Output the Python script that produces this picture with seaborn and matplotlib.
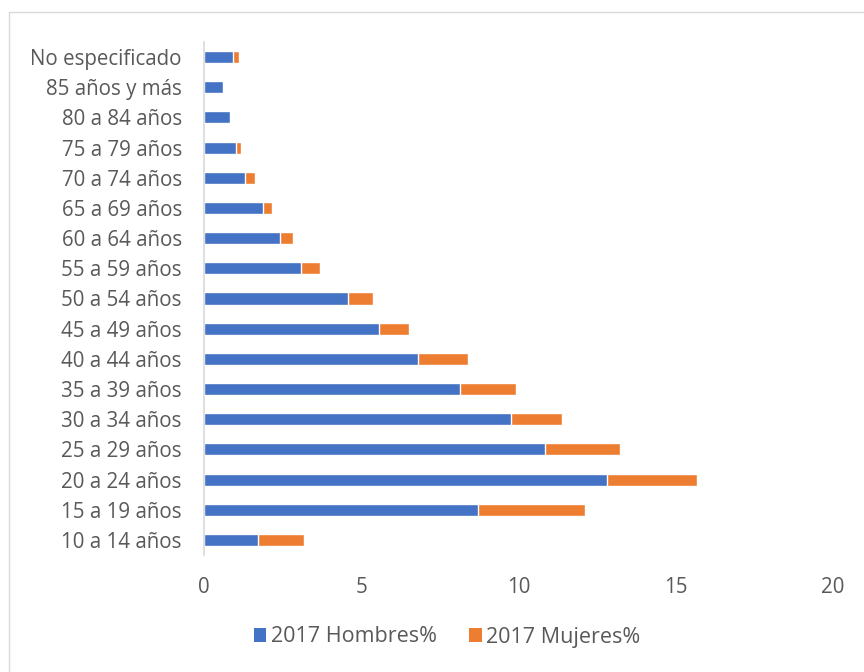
import matplotlib
matplotlib.use("Agg")
import matplotlib.pyplot as plt
import seaborn as sns
import pandas as pd
from matplotlib.patches import Rectangle, Patch

categories = ["No especificado", "85 años y más", "80 a 84 años", "75 a 79 años",
              "70 a 74 años", "65 a 69 años", "60 a 64 años", "55 a 59 años",
              "50 a 54 años", "45 a 49 años", "40 a 44 años", "35 a 39 años",
              "30 a 34 años", "25 a 29 años", "20 a 24 años", "15 a 19 años",
              "10 a 14 años"]
hombres = [0.92, 0.60, 0.82, 1.03, 1.30, 1.89, 2.41, 3.10, 4.59, 5.57, 6.82,
           8.15, 9.76, 10.84, 12.82, 8.71, 1.73]
mujeres = [0.18, 0.04, 0.04, 0.16, 0.31, 0.28, 0.41, 0.60, 0.77, 0.95, 1.57,
           1.78, 1.62, 2.40, 2.86, 3.41, 1.45]
xticks = [0, 5, 10, 15, 20]
series_names = ["2017 Hombres%", "2017 Mujeres%"]

BLUE = "#4472C4"
ORANGE = "#ED7D31"
GRAY = "#595959"

sns.set_style("white")
plt.rcParams["font.family"] = ["Open Sans", "DejaVu Sans"]

df = pd.DataFrame({"cat": categories, "h": hombres, "m": mujeres})
df["total"] = df["h"] + df["m"]

fig = plt.figure(figsize=(8.64, 6.72), dpi=100)
ax = fig.add_axes([204/864, 1-555/672, (833-204)/864, (555-42)/672])

sns.barplot(data=df, x="total", y="cat", order=categories, color=ORANGE,
            width=0.4, ax=ax, saturation=1, orient="h")
sns.barplot(data=df, x="h", y="cat", order=categories, color=BLUE,
            width=0.4, ax=ax, saturation=1, orient="h")

ax.set_xlim(0, 20)
ax.set_ylim(16.5, -0.5)
ax.set_xticks(xticks)
ax.set_xticklabels([str(t) for t in xticks])
ax.set_xlabel("")
ax.set_ylabel("")
ax.tick_params(axis="x", length=0, pad=16, labelsize=14.8, labelcolor=GRAY)
ax.tick_params(axis="y", length=0, pad=16, labelsize=14.8, labelcolor=GRAY)
for s in ["top", "right", "bottom"]:
    ax.spines[s].set_visible(False)
ax.spines["left"].set_color("#D9D9D9")
ax.spines["left"].set_linewidth(1.2)
ax.grid(False)

handles = [Patch(facecolor=BLUE, edgecolor="none"),
           Patch(facecolor=ORANGE, edgecolor="none")]
fig.legend(handles, series_names, loc="center",
           bbox_to_anchor=(447/864, 1-637/672), ncol=2, frameon=False,
           fontsize=15.5, labelcolor=GRAY, handlelength=0.6, handleheight=0.6,
           handletextpad=0.2, columnspacing=1.5)

fig.patches.append(Rectangle((9/864, -0.01), 1.0, 1-12/672+0.01,
                             transform=fig.transFigure, fill=False,
                             edgecolor="#D9D9D9", linewidth=1.0))

fig.savefig("out.png", dpi=100, facecolor="white")
